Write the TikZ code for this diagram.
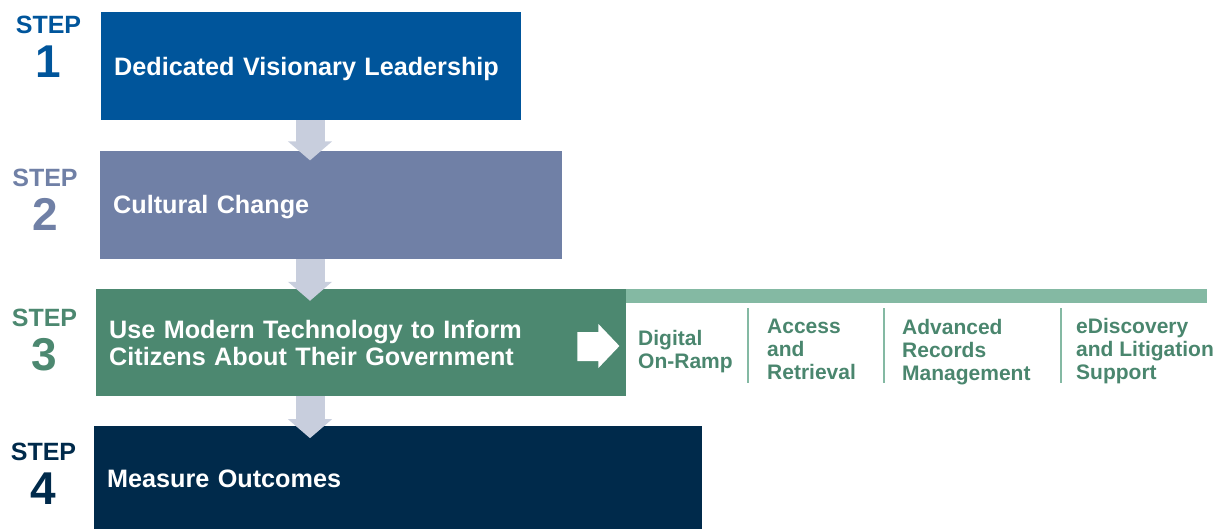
\documentclass[tikz,border=0pt]{standalone}
\usepackage{fontspec}
\setmainfont{Liberation Sans}
\usetikzlibrary{positioning,arrows.meta}

\definecolor{stepone}{RGB}{0,85,155}
\definecolor{steptwo}{RGB}{112,128,166}
\definecolor{stepthree}{RGB}{76,136,112}
\definecolor{stepfour}{RGB}{0,42,75}
\definecolor{flowgrey}{RGB}{200,206,221}
\definecolor{bargreen}{RGB}{132,185,163}
\definecolor{itemgreen}{RGB}{74,134,110}

\tikzset{stepbox/.style = {rectangle,
                           inner xsep=13pt,
                           inner ysep=0pt,
                           minimum height=108pt,
                           text depth=0pt,
                           align=left,
                           text=white,
                           font=\bfseries\fontsize{25.2}{27}\selectfont},
         steplabel/.style = {align=center,
                             inner sep=0pt,
                             anchor=north,
                             font=\bfseries\fontsize{25}{44}\selectfont},
         flow/.style = {draw=flowgrey,
                        line width=29pt,
                        -{Triangle[width=43pt,length=19pt]}},
         item/.style = {anchor=west,
                        align=left,
                        inner sep=0pt,
                        text=itemgreen,
                        font=\bfseries\fontsize{21}{23}\selectfont},
         divider/.style = {draw=bargreen, line width=2pt}}

\newcommand{\bignum}[1]{{\fontsize{46}{44}\selectfont #1}}

\begin{document}
\begin{tikzpicture}[x=1pt, y=-1pt]
    \useasboundingbox (0,0) rectangle (1230,529);

    % the four steps
    \node (box1) [stepbox, fill=stepone, text width=394pt, anchor=north west] at (101,12)
        {Dedicated Visionary Leadership};
    \node (box2) [stepbox, fill=steptwo, text width=436pt,
                  below=30pt of box1.south west, anchor=north west, xshift=-1pt]
        {Cultural Change};
    \node (box3) [stepbox, fill=stepthree, text width=504pt, minimum height=107pt, text depth=27pt,
                  below=30pt of box2.south west, anchor=north west, xshift=-4pt]
        {Use Modern Technology to Inform\\Citizens About Their Government};
    \node (box4) [stepbox, fill=stepfour, text width=582pt, minimum height=104pt,
                  below=30pt of box3.south west, anchor=north west, xshift=-2pt]
        {Measure Outcomes};

    % step numbers
    \node (s1) [steplabel, text=stepone]   at (48.5,15.5)  {STEP\\\bignum{1}};
    \node (s2) [steplabel, text=steptwo]   at (45,168.5)   {STEP\\\bignum{2}};
    \node (s3) [steplabel, text=stepthree] at (44.5,308.5) {STEP\\\bignum{3}};
    \node (s4) [steplabel, text=stepfour]  at (43.5,442.5) {STEP\\\bignum{4}};

    % arrows between the steps
    \coordinate (axis) at (310,0);
    \coordinate (t2) at ([yshift=-10pt]box2.north);
    \coordinate (t3) at ([yshift=-12pt]box3.north);
    \coordinate (t4) at ([yshift=-12pt]box4.north);
    \draw[flow] (box1.south -| axis) -- (t2 -| axis);
    \draw[flow] (box2.south -| axis) -- (t3 -| axis);
    \draw[flow] (box3.south -| axis) -- (t4 -| axis);

    % white arrow and the bar of step 3
    \fill[white, shift={(box3.east)}] (-49,-10.5) -- (-28,-10.5) -- (-28,-18.5) -- (-7,3.5)
        -- (-28,25.5) -- (-28,18.5) -- (-49,18.5) -- cycle;
    \fill[bargreen] (box3.north east) rectangle ++(581,14);

    \node (i1) [item] at (638,352) {Digital\\On-Ramp};
    \node (i2) [item] at (767,349) {Access\\and\\Retrieval};
    \node (i3) [item] at (902,352) {Advanced\\Records\\Management};
    \node (i4) [item] at (1076,351) {eDiscovery\\and Litigation\\Support};

    \foreach \x in {748,884,1061}
        \draw[divider] (\x,308) -- (\x,383);
\end{tikzpicture}
\end{document}
